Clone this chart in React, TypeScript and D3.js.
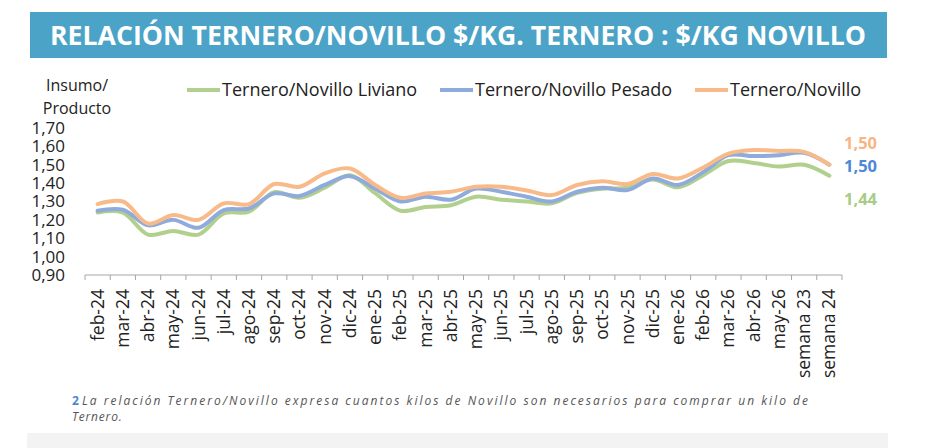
import React, { useEffect, useRef } from 'react';
import * as d3 from 'd3';

// Categories (months, then the last two weeks)
const categories = [
  'feb-24', 'mar-24', 'abr-24', 'may-24', 'jun-24', 'jul-24', 'ago-24', 'sep-24', 'oct-24', 'nov-24', 'dic-24',
  'ene-25', 'feb-25', 'mar-25', 'abr-25', 'may-25', 'jun-25', 'jul-25', 'ago-25', 'sep-25', 'oct-25', 'nov-25', 'dic-25',
  'ene-26', 'feb-26', 'mar-26', 'abr-26', 'may-26', 'semana 23', 'semana 24',
];

const liviano = [
  1.24, 1.24, 1.12, 1.14, 1.12, 1.235, 1.245, 1.35, 1.32, 1.375, 1.443,
  1.345, 1.25, 1.27, 1.28, 1.326, 1.31, 1.30, 1.29, 1.347, 1.37, 1.375, 1.42,
  1.377, 1.443, 1.52, 1.51, 1.49, 1.50, 1.44,
];

const pesado = [
  1.25, 1.255, 1.17, 1.20, 1.157, 1.253, 1.262, 1.344, 1.33, 1.39, 1.438,
  1.37, 1.30, 1.326, 1.31, 1.37, 1.353, 1.326, 1.30, 1.353, 1.375, 1.362, 1.425,
  1.39, 1.46, 1.552, 1.547, 1.552, 1.565, 1.50,
];

const general = [
  1.286, 1.30, 1.18, 1.226, 1.20, 1.29, 1.286, 1.395, 1.38, 1.453, 1.48,
  1.39, 1.32, 1.344, 1.353, 1.38, 1.38, 1.36, 1.335, 1.39, 1.41, 1.395, 1.45,
  1.425, 1.485, 1.56, 1.58, 1.575, 1.57, 1.50,
];

const yTicks = [0.9, 1.0, 1.1, 1.2, 1.3, 1.4, 1.5, 1.6, 1.7];

const series = [
  { name: 'Ternero/Novillo Liviano', values: liviano, color: '#b2d08d', label: '#a8cc85', labelY: 199, legendX: 187 },
  { name: 'Ternero/Novillo Pesado', values: pesado, color: '#8eabdc', label: '#4f87d9', labelY: 166, legendX: 440 },
  { name: 'Ternero/Novillo', values: general, color: '#f9ba8a', label: '#f7b584', labelY: 143, legendX: 695 },
];

const fmt = (v: number) => d3.format('.2f')(v).replace('.', ',');

const W = 926;
const H = 448;
const plot = { left: 85, right: 842, top: 128, bottom: 275 };

const App = () => {
  const svgRef = useRef<SVGSVGElement>(null);

  useEffect(() => {
    const svg = d3.select(svgRef.current);
    svg.selectAll('*').remove();

    const font = "'Open Sans', sans-serif";

    // Title banner
    svg.append('rect')
      .attr('x', 30).attr('y', 12).attr('width', 857).attr('height', 46)
      .attr('fill', '#4ba3c7');
    svg.append('text')
      .attr('x', 458).attr('y', 45)
      .attr('text-anchor', 'middle')
      .attr('textLength', 816)
      .attr('lengthAdjust', 'spacingAndGlyphs')
      .style('font-family', font)
      .style('font-weight', 700)
      .style('font-size', '26px')
      .style('fill', '#fff')
      .text('RELACIÓN TERNERO/NOVILLO $/KG. TERNERO : $/KG NOVILLO');

    const x = d3.scaleBand<string>()
      .domain(categories)
      .range([plot.left, plot.right])
      .padding(0);

    const y = d3.scaleLinear()
      .domain([0.9, 1.7])
      .range([plot.bottom, plot.top]);

    // Y axis labels (no axis line)
    const yAxis = svg.append('g')
      .attr('transform', 'translate(65,0)')
      .call(d3.axisLeft(y).tickValues(yTicks).tickSize(0).tickPadding(0).tickFormat(d => fmt(+d)));
    yAxis.select('.domain').remove();
    yAxis.selectAll('text')
      .style('font-family', font)
      .style('font-size', '17px')
      .style('fill', '#222');

    svg.append('text')
      .attr('x', 77).attr('y', 91)
      .attr('text-anchor', 'middle')
      .style('font-family', font).style('font-size', '16px').style('fill', '#222')
      .text('Insumo/');
    svg.append('text')
      .attr('x', 77).attr('y', 114)
      .attr('text-anchor', 'middle')
      .style('font-family', font).style('font-size', '16px').style('fill', '#222')
      .text('Producto');

    // X axis with ticks on category boundaries
    const xAxis = svg.append('g').attr('transform', `translate(0,${plot.bottom})`);
    xAxis.append('line')
      .attr('x1', plot.left).attr('x2', plot.right)
      .attr('stroke', '#a6a6a6').attr('stroke-width', 1);
    const bounds = categories.map(c => x(c) as number).concat([plot.right]);
    xAxis.selectAll('line.tick')
      .data(bounds)
      .enter()
      .append('line')
      .attr('class', 'tick')
      .attr('x1', d => d).attr('x2', d => d)
      .attr('y1', 0).attr('y2', 5)
      .attr('stroke', '#a6a6a6');
    xAxis.selectAll('text')
      .data(categories)
      .enter()
      .append('text')
      .attr('transform', d => `translate(${(x(d) as number) + x.bandwidth() / 2 + 6},14) rotate(-90)`)
      .attr('text-anchor', 'end')
      .style('font-family', font)
      .style('font-size', '17.5px')
      .style('fill', '#222')
      .text(d => d);

    // Smoothed lines
    const line = d3.line<number>()
      .x((_, i) => (x(categories[i]) as number) + x.bandwidth() / 2)
      .y(d => y(d))
      .curve(d3.curveCatmullRom.alpha(0.5));

    series.forEach(s => {
      svg.append('path')
        .datum(s.values)
        .attr('d', line)
        .attr('fill', 'none')
        .attr('stroke', s.color)
        .attr('stroke-width', 4)
        .attr('stroke-linejoin', 'round')
        .attr('stroke-linecap', 'round');
    });

    // Last values
    series.forEach(s => {
      svg.append('text')
        .attr('x', 844).attr('y', s.labelY + 6)
        .style('font-family', font)
        .style('font-size', '16.5px')
        .style('font-weight', 700)
        .style('fill', s.label)
        .text(fmt(s.values[s.values.length - 1]));
    });

    // Legend
    series.forEach(s => {
      const g = svg.append('g').attr('transform', `translate(${s.legendX},90)`);
      g.append('line')
        .attr('x1', 0).attr('x2', 33)
        .attr('stroke', s.color).attr('stroke-width', 4);
      g.append('text')
        .attr('x', 35).attr('y', 6)
        .style('font-family', font)
        .style('font-size', '18px')
        .style('fill', '#222')
        .text(s.name);
    });

    // Footnote
    const note = svg.append('text')
      .attr('x', 72).attr('y', 405)
      .style('font-family', font)
      .style('font-size', '12px')
      .style('font-style', 'italic')
      .style('fill', '#555');
    note.append('tspan')
      .style('fill', '#4a86d8').style('font-weight', 700).style('font-style', 'normal')
      .text('2 ');
    note.append('tspan')
      .attr('textLength', 726)
      .attr('lengthAdjust', 'spacing')
      .text('La relación Ternero/Novillo expresa cuantos kilos de Novillo son necesarios para comprar un kilo de');
    svg.append('text')
      .attr('x', 72).attr('y', 421)
      .style('font-family', font)
      .style('font-size', '12px')
      .style('font-style', 'italic')
      .style('letter-spacing', '0.8px')
      .style('fill', '#555')
      .text('Ternero.');

    svg.append('rect')
      .attr('x', 27).attr('y', 433).attr('width', 861).attr('height', 15)
      .attr('fill', '#f3f3f3');
  }, []);

  return (
    <svg
      ref={svgRef}
      width={W}
      height={H}
      style={{ position: 'absolute', left: 0, top: 0, background: '#fff' }}
    />
  );
};

export default App;
